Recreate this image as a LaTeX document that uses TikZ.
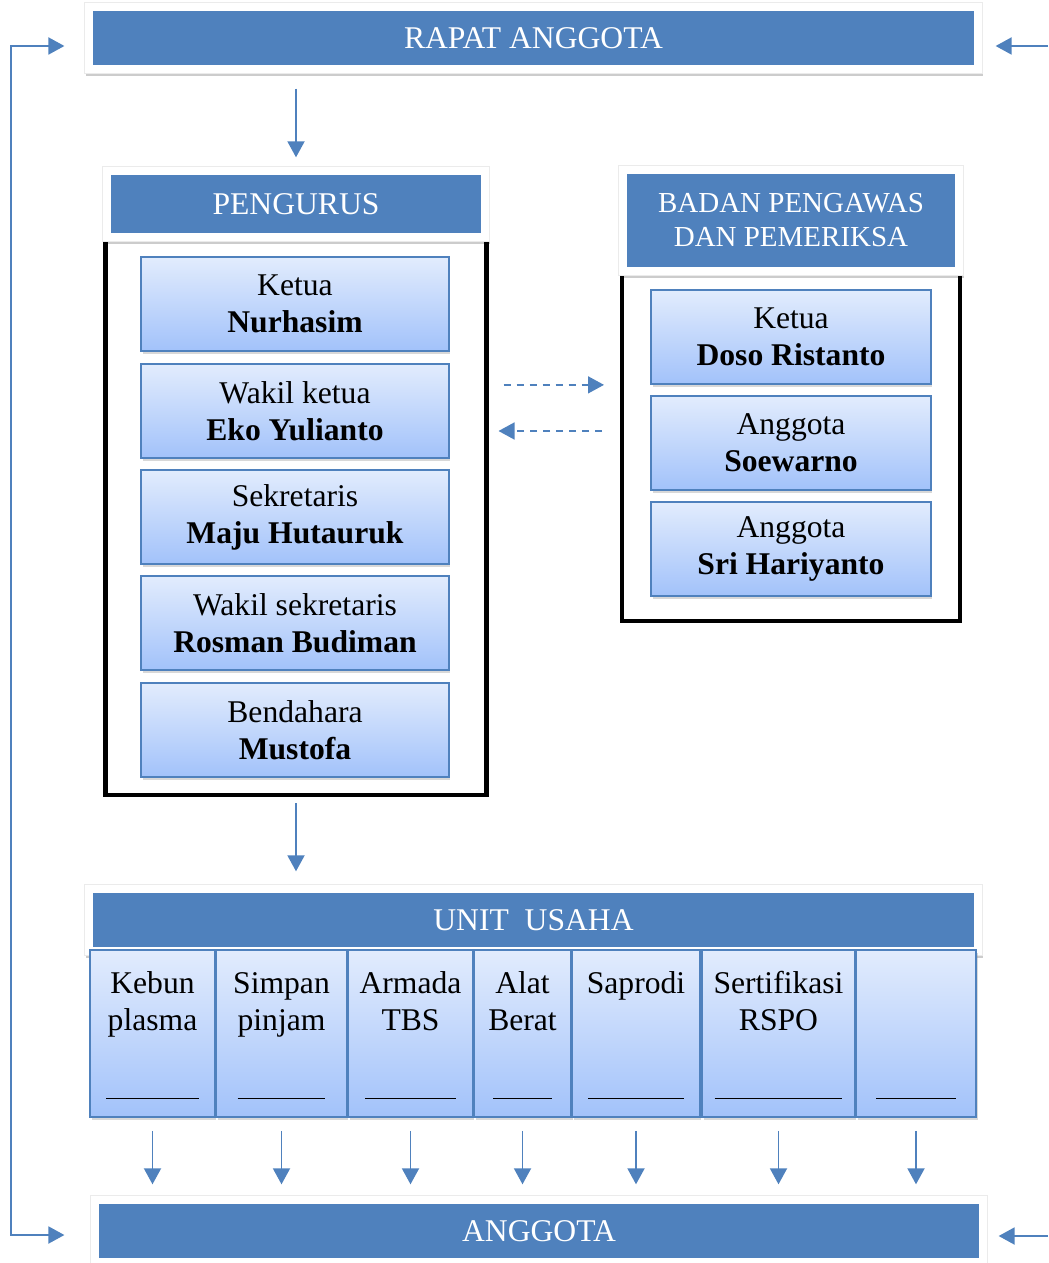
\documentclass[tikz,border=0pt]{standalone}
\usepackage{fontspec}
\setmainfont{Liberation Serif}
\usetikzlibrary{arrows.meta,positioning,calc,fit,backgrounds,shadows}
\definecolor{orgblue}{RGB}{79,129,189}
\definecolor{boxtop}{RGB}{226,236,253}
\definecolor{boxbot}{RGB}{162,194,250}
\newcommand{\unitlabel}[3]{\parbox[c][2.64cm][t]{#1}{\centering\strut #2\par\vfill\rule{#3}{0.9pt}}}

\begin{document}
\begin{tikzpicture}[x=0.02cm, y=-0.02cm,
    bar/.style={rectangle, fill=orgblue, text=white, inner sep=0pt, align=center,
                font=\fontsize{18}{21}\selectfont},
    frame/.style={rectangle, fill=white, draw=black!8, inner sep=0.16cm,
                  drop shadow={shadow xshift=0.02cm, shadow yshift=-0.06cm, fill=black, opacity=0.2}},
    outline/.style={rectangle, draw=black, line width=2.5pt, fill=white},
    person/.style={rectangle, draw=orgblue, line width=1pt, top color=boxtop, bottom color=boxbot,
                   minimum height=1.88cm, align=center, inner sep=0pt,
                   font=\fontsize{18}{21}\selectfont,
                   drop shadow={shadow xshift=0.03cm, shadow yshift=-0.06cm, opacity=0.3}},
    unit/.style={person, minimum height=3.34cm},
    arr/.style={-{Triangle[length=0.32cm, width=0.34cm]}, line width=1.1pt, orgblue},
    darr/.style={arr, dash pattern=on 0.15cm off 0.11cm, line width=0.9pt}
]
    \useasboundingbox (0,0) rectangle (1048,1263);

    \node[bar, minimum width=17.62cm, minimum height=1.08cm] (rapat) at (533.5,38) {RAPAT ANGGOTA};
    \node[bar, minimum width=7.4cm, minimum height=1.16cm] (pengurus) at (296,204) {PENGURUS};
    \node[bar, minimum width=6.56cm, minimum height=1.86cm, font=\fontsize{16.5}{19.3}\selectfont] (badan) at (791,220.5) {BADAN PENGAWAS\\DAN PEMERIKSA};
    \node[bar, minimum width=17.62cm, minimum height=1.08cm] (unit) at (533.5,920) {UNIT\ \ USAHA};
    \node[bar, minimum width=17.6cm, minimum height=1.08cm] (anggota) at (539,1231) {ANGGOTA};

    \node[person, minimum width=6.16cm] (ketua) at (295,304) {Ketua\\\textbf{Nurhasim}};
    \node[person, minimum width=6.16cm] (wakil) at (295,411) {Wakil ketua\\\textbf{Eko Yulianto}};
    \node[person, minimum width=6.16cm] (sekretaris) at (295,517) {Sekretaris\\\textbf{Maju Hutauruk}};
    \node[person, minimum width=6.16cm] (wakilsek) at (295,623) {Wakil sekretaris\\\textbf{Rosman Budiman}};
    \node[person, minimum width=6.16cm] (bendahara) at (295,730) {Bendahara\\\textbf{Mustofa}};

    \node[person, minimum width=5.6cm] (ketuaB) at (791,337) {Ketua\\\textbf{Doso Ristanto}};
    \node[person, minimum width=5.6cm] (soewarno) at (791,443) {Anggota\\\textbf{Soewarno}};
    \node[person, minimum width=5.6cm] (sriH) at (791,549) {Anggota\\\textbf{Sri Hariyanto}};

    \node[unit, minimum width=2.5cm] (kebun) at (152.5,1033.5) {\unitlabel{2.4cm}{Kebun\\plasma}{1.86cm}};
    \node[unit, minimum width=2.62cm] (simpan) at (281.5,1033.5) {\unitlabel{2.52cm}{Simpan\\pinjam}{1.76cm}};
    \node[unit, minimum width=2.5cm] (armada) at (410.5,1033.5) {\unitlabel{2.5cm}{Armada\\TBS}{1.82cm}};
    \node[unit, minimum width=1.94cm] (alat) at (522.5,1033.5) {\unitlabel{1.84cm}{Alat\\Berat}{1.18cm}};
    \node[unit, minimum width=2.56cm] (saprodi) at (636,1033.5) {\unitlabel{2.46cm}{Saprodi}{1.92cm}};
    \node[unit, minimum width=3.06cm] (rspo) at (778.5,1033.5) {\unitlabel{2.96cm}{Sertifikasi\\RSPO}{2.56cm}};
    \node[unit, minimum width=2.4cm] (lain) at (916,1033.5) {\unitlabel{2.3cm}{}{1.6cm}};

    \begin{scope}[on background layer]
        \node[outline, fit=(pengurus.south west)(pengurus.south east)(bendahara), inner xsep=0.1cm, inner ysep=0.34cm] (pengurusbox) {};
        \node[outline, fit=(badan.south west)(badan.south east)(sriH), inner xsep=0.09cm, inner ysep=0.48cm] (badanbox) {};
        \node[frame, fit=(rapat)] (rapatF) {};
        \node[frame, fit=(pengurus)] (pengurusF) {};
        \node[frame, fit=(badan)] (badanF) {};
        \node[frame, fit=(unit)] (unitF) {};
        \node[frame, fit=(anggota)] (anggotaF) {};
    \end{scope}

    \coordinate (rtop) at (1048,46);
    \coordinate (rbot) at (1048,1236);

    \draw[arr, shorten <=0.3cm, shorten >=0.18cm] (pengurusF.north |- rapatF.south) -- (pengurusF.north);
    \draw[arr, shorten <=0.12cm, shorten >=0.26cm] (pengurusbox.south) -- (pengurusbox.south |- unitF.north);

    \draw[darr, shorten <=0.3cm, shorten >=0.32cm] (pengurusbox.east |- ketuaB.south) -- (badanbox.west |- ketuaB.south);
    \draw[darr, shorten <=0.36cm, shorten >=0.2cm] (badanbox.west |- 0,431) -- (pengurusbox.east |- 0,431);

    \draw[arr, {Triangle[length=0.32cm, width=0.34cm]}-{Triangle[length=0.32cm, width=0.34cm]}, shorten <=0.4cm, shorten >=0.52cm]
        ([yshift=-0.16cm]rapatF.west) -- ++(-73,0) |- ([yshift=-0.08cm]anggotaF.west);
    \draw[arr, shorten >=0.26cm] (rtop) -- (rtop -| rapatF.east);
    \draw[arr, shorten >=0.22cm] (rbot) -- (rbot -| anggotaF.east);

    \draw[arr, shorten <=0.26cm, shorten >=0.22cm] (kebun.south) -- (kebun.south |- anggotaF.north);
    \draw[arr, shorten <=0.26cm, shorten >=0.22cm] (simpan.south) -- (simpan.south |- anggotaF.north);
    \draw[arr, shorten <=0.26cm, shorten >=0.22cm] (armada.south) -- (armada.south |- anggotaF.north);
    \draw[arr, shorten <=0.26cm, shorten >=0.22cm] (alat.south) -- (alat.south |- anggotaF.north);
    \draw[arr, shorten <=0.26cm, shorten >=0.22cm] (saprodi.south) -- (saprodi.south |- anggotaF.north);
    \draw[arr, shorten <=0.26cm, shorten >=0.22cm] (rspo.south) -- (rspo.south |- anggotaF.north);
    \draw[arr, shorten <=0.26cm, shorten >=0.22cm] (lain.south) -- (lain.south |- anggotaF.north);
\end{tikzpicture}
\end{document}
